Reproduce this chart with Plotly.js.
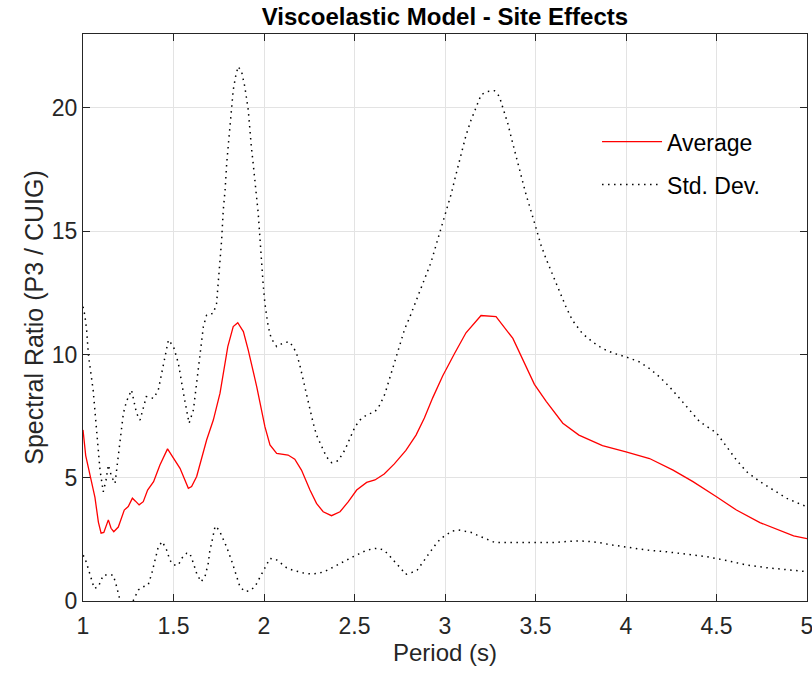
<!DOCTYPE html>
<html>
<head>
<meta charset="utf-8">
<script src="https://cdn.plot.ly/plotly-3.0.1.min.js"></script>
<style>html,body{margin:0;padding:0;background:#fff;}#chart{width:812px;height:673px;}</style>
</head>
<body>
<div id="chart"></div>
<script>
// Average spectral ratio
const avgPeriod = [1.000,1.015,1.030,1.050,1.066,1.085,1.100,1.115,1.130,1.140,1.155,1.170,1.195,1.228,1.250,1.273,1.290,1.310,1.333,1.357,1.390,1.425,1.467,1.508,1.536,1.582,1.600,1.628,1.683,1.720,1.757,1.800,1.830,1.855,1.886,1.913,1.960,2.005,2.033,2.070,2.133,2.170,2.207,2.254,2.290,2.327,2.373,2.420,2.466,2.512,2.567,2.613,2.664,2.720,2.784,2.840,2.886,2.932,2.987,3.052,3.116,3.199,3.282,3.375,3.439,3.494,3.559,3.651,3.740,3.870,4.000,4.130,4.260,4.370,4.500,4.610,4.740,4.833,4.926,5.000];
const avgRatio  = [6.94,5.9,5.4,4.8,4.2,3.2,2.75,2.78,3.1,3.29,2.95,2.81,3.0,3.69,3.83,4.17,4.05,3.9,4.03,4.5,4.84,5.52,6.17,5.72,5.38,4.57,4.64,5.05,6.53,7.34,8.43,10.32,11.13,11.29,10.93,10.18,8.69,7.07,6.33,5.99,5.92,5.75,5.31,4.5,3.96,3.62,3.46,3.62,4.03,4.5,4.81,4.91,5.15,5.56,6.11,6.73,7.42,8.24,9.13,10.03,10.88,11.58,11.54,10.65,9.62,8.79,8.10,7.21,6.73,6.30,6.05,5.78,5.31,4.84,4.23,3.69,3.18,2.91,2.64,2.53];

// Upper standard-deviation bound
const upperPeriod = [1.000,1.010,1.020,1.030,1.056,1.075,1.094,1.112,1.127,1.140,1.158,1.177,1.195,1.223,1.240,1.268,1.296,1.315,1.350,1.390,1.416,1.444,1.472,1.500,1.527,1.555,1.586,1.610,1.637,1.665,1.683,1.720,1.738,1.748,1.757,1.766,1.775,1.785,1.794,1.803,1.812,1.821,1.830,1.843,1.857,1.876,1.894,1.913,1.920,1.930,1.940,1.955,1.968,1.977,1.986,1.995,2.005,2.023,2.040,2.070,2.105,2.140,2.160,2.180,2.200,2.217,2.236,2.254,2.270,2.290,2.318,2.345,2.373,2.410,2.447,2.475,2.503,2.530,2.567,2.613,2.640,2.668,2.696,2.724,2.750,2.778,2.803,2.821,2.840,2.867,2.895,2.923,2.950,2.978,3.006,3.033,3.061,3.089,3.116,3.144,3.172,3.200,3.236,3.273,3.300,3.319,3.347,3.375,3.411,3.448,3.476,3.504,3.531,3.559,3.596,3.633,3.670,3.704,3.759,3.815,3.870,3.935,4.000,4.074,4.130,4.185,4.240,4.296,4.352,4.407,4.463,4.500,4.556,4.610,4.667,4.740,4.815,4.889,4.963,5.000];
const upperRatio  = [11.94,11.6,11.0,9.98,8.56,7.07,5.31,4.43,4.9,5.52,5.04,4.77,5.85,7.61,8.09,8.56,7.61,7.34,8.29,8.22,8.56,9.64,10.59,10.32,9.64,8.43,7.21,7.75,9.5,11.13,11.6,11.67,12.07,12.89,13.7,14.65,15.86,16.67,17.76,18.57,19.38,20.05,20.73,21.27,21.68,21.48,20.86,19.92,19.11,18.43,17.76,16.81,15.73,14.78,13.7,12.89,12.07,11.15,10.65,10.32,10.46,10.52,10.32,10.05,9.5,8.95,8.45,7.75,7.27,6.73,6.26,5.85,5.61,5.69,6.13,6.6,7.07,7.34,7.55,7.68,7.95,8.4,9.05,9.7,10.3,11.05,11.47,11.81,12.16,12.64,13.19,13.74,14.42,15.11,15.8,16.48,17.31,18.13,18.89,19.51,20.05,20.54,20.67,20.7,20.47,20.05,19.37,18.54,17.51,16.48,15.8,15.11,14.42,13.87,13.19,12.5,11.9,11.39,10.85,10.51,10.24,10.04,9.9,9.7,9.43,9.09,8.69,8.22,7.74,7.27,7.0,6.82,6.26,5.72,5.24,4.84,4.5,4.16,3.93,3.82];

// Lower standard-deviation bound
const lowerPeriod = [1.000,1.007,1.020,1.040,1.062,1.085,1.112,1.140,1.167,1.186,1.204,1.225,1.250,1.270,1.287,1.306,1.333,1.360,1.380,1.398,1.416,1.438,1.462,1.480,1.500,1.527,1.545,1.573,1.590,1.610,1.628,1.652,1.674,1.692,1.700,1.714,1.730,1.752,1.770,1.793,1.820,1.840,1.867,1.895,1.920,1.950,1.978,2.000,2.015,2.033,2.066,2.094,2.125,2.156,2.190,2.226,2.260,2.300,2.333,2.365,2.398,2.430,2.460,2.493,2.525,2.558,2.595,2.628,2.660,2.687,2.710,2.737,2.760,2.782,2.815,2.847,2.867,2.890,2.912,2.932,2.953,2.978,3.010,3.040,3.074,3.107,3.142,3.175,3.208,3.243,3.276,3.313,3.383,3.455,3.492,3.564,3.600,3.670,3.745,3.815,3.850,3.926,4.000,4.110,4.220,4.333,4.444,4.556,4.667,4.778,4.889,5.000];
const lowerRatio  = [1.85,1.8,1.53,1.05,0.51,0.58,1.05,1.05,1.05,0.58,0.04,-0.35,-0.4,-0.1,0.15,0.45,0.58,0.65,1.12,1.66,2.2,2.41,2.07,1.66,1.46,1.46,1.73,1.94,1.94,1.53,1.12,0.78,0.99,1.53,2.0,2.47,3.04,2.88,2.61,2.2,1.66,1.19,0.58,0.38,0.41,0.58,0.98,1.3,1.53,1.73,1.69,1.53,1.35,1.26,1.19,1.12,1.1,1.12,1.19,1.3,1.43,1.56,1.69,1.8,1.91,2.03,2.11,2.14,2.07,1.89,1.69,1.49,1.29,1.08,1.15,1.26,1.49,1.7,1.93,2.14,2.34,2.54,2.69,2.84,2.88,2.85,2.79,2.68,2.57,2.47,2.37,2.37,2.37,2.37,2.34,2.34,2.37,2.41,2.44,2.4,2.37,2.27,2.2,2.07,2.0,1.91,1.8,1.64,1.46,1.35,1.26,1.19];

// Tick labels
const xTickVals = [1,1.5,2,2.5,3,3.5,4,4.5,5];
const xTickText = ["1","1.5","2","2.5","3","3.5","4","4.5","5"];
const yTickVals = [0,5,10,15,20];
const yTickText = ["0","5","10","15","20"];

const FONT = '"Liberation Sans", Arial, Helvetica, sans-serif';
const dotStyle = {color: '#000000', width: 1.5, dash: '1.5px,4.5px'};

const traces = [
  {x: avgPeriod, y: avgRatio, type: 'scatter', mode: 'lines', name: 'Average',
   legendgroup: 'avg', line: {color: '#ff0000', width: 1.3}},
  {x: upperPeriod, y: upperRatio, type: 'scatter', mode: 'lines', name: 'Std. Dev.',
   legendgroup: 'std', line: dotStyle},
  {x: lowerPeriod, y: lowerRatio, type: 'scatter', mode: 'lines', name: 'Std. Dev.',
   legendgroup: 'std', showlegend: false, line: dotStyle}
];

const axisCommon = {
  showline: true, mirror: 'ticks', linecolor: '#262626', linewidth: 1,
  ticks: 'inside', ticklen: 7, tickcolor: '#262626', tickwidth: 1,
  showgrid: true, gridcolor: '#e3e3e3', gridwidth: 1, zeroline: false,
  ticklabeloverflow: 'allow',
  tickfont: {family: FONT, size: 23, color: '#262626'}
};

const layout = {
  width: 812, height: 673,
  margin: {l: 83, r: 5, t: 34, b: 72},
  paper_bgcolor: '#ffffff', plot_bgcolor: '#ffffff',
  font: {family: FONT, color: '#262626'},
  title: {text: '<b>Viscoelastic Model - Site Effects</b>', font: {family: FONT, size: 24, color: '#000000'},
          x: 0.548, xanchor: 'center', yref: 'container', y: 0.976, yanchor: 'middle'},
  xaxis: Object.assign({}, axisCommon, {
    range: [1, 5], tickvals: xTickVals, ticktext: xTickText, ticklabelstandoff: 4,
    title: {text: 'Period (s)', font: {family: FONT, size: 24, color: '#262626'}, standoff: 6}
  }),
  yaxis: Object.assign({}, axisCommon, {
    range: [0, 23], tickvals: yTickVals, ticktext: yTickText,
    title: {text: 'Spectral Ratio (P3 / CUIG)', font: {family: FONT, size: 25, color: '#262626'}, standoff: 1}
  }),
  showlegend: true,
  legend: {x: 0.71, y: 0.848, xanchor: 'left', yanchor: 'top', bgcolor: 'rgba(0,0,0,0)',
           traceorder: 'grouped', tracegroupgap: 10,
           font: {family: FONT, size: 23, color: '#000000'}, itemwidth: 60}
};

Plotly.newPlot('chart', traces, layout, {displayModeBar: false, staticPlot: true});
</script>
</body>
</html>
